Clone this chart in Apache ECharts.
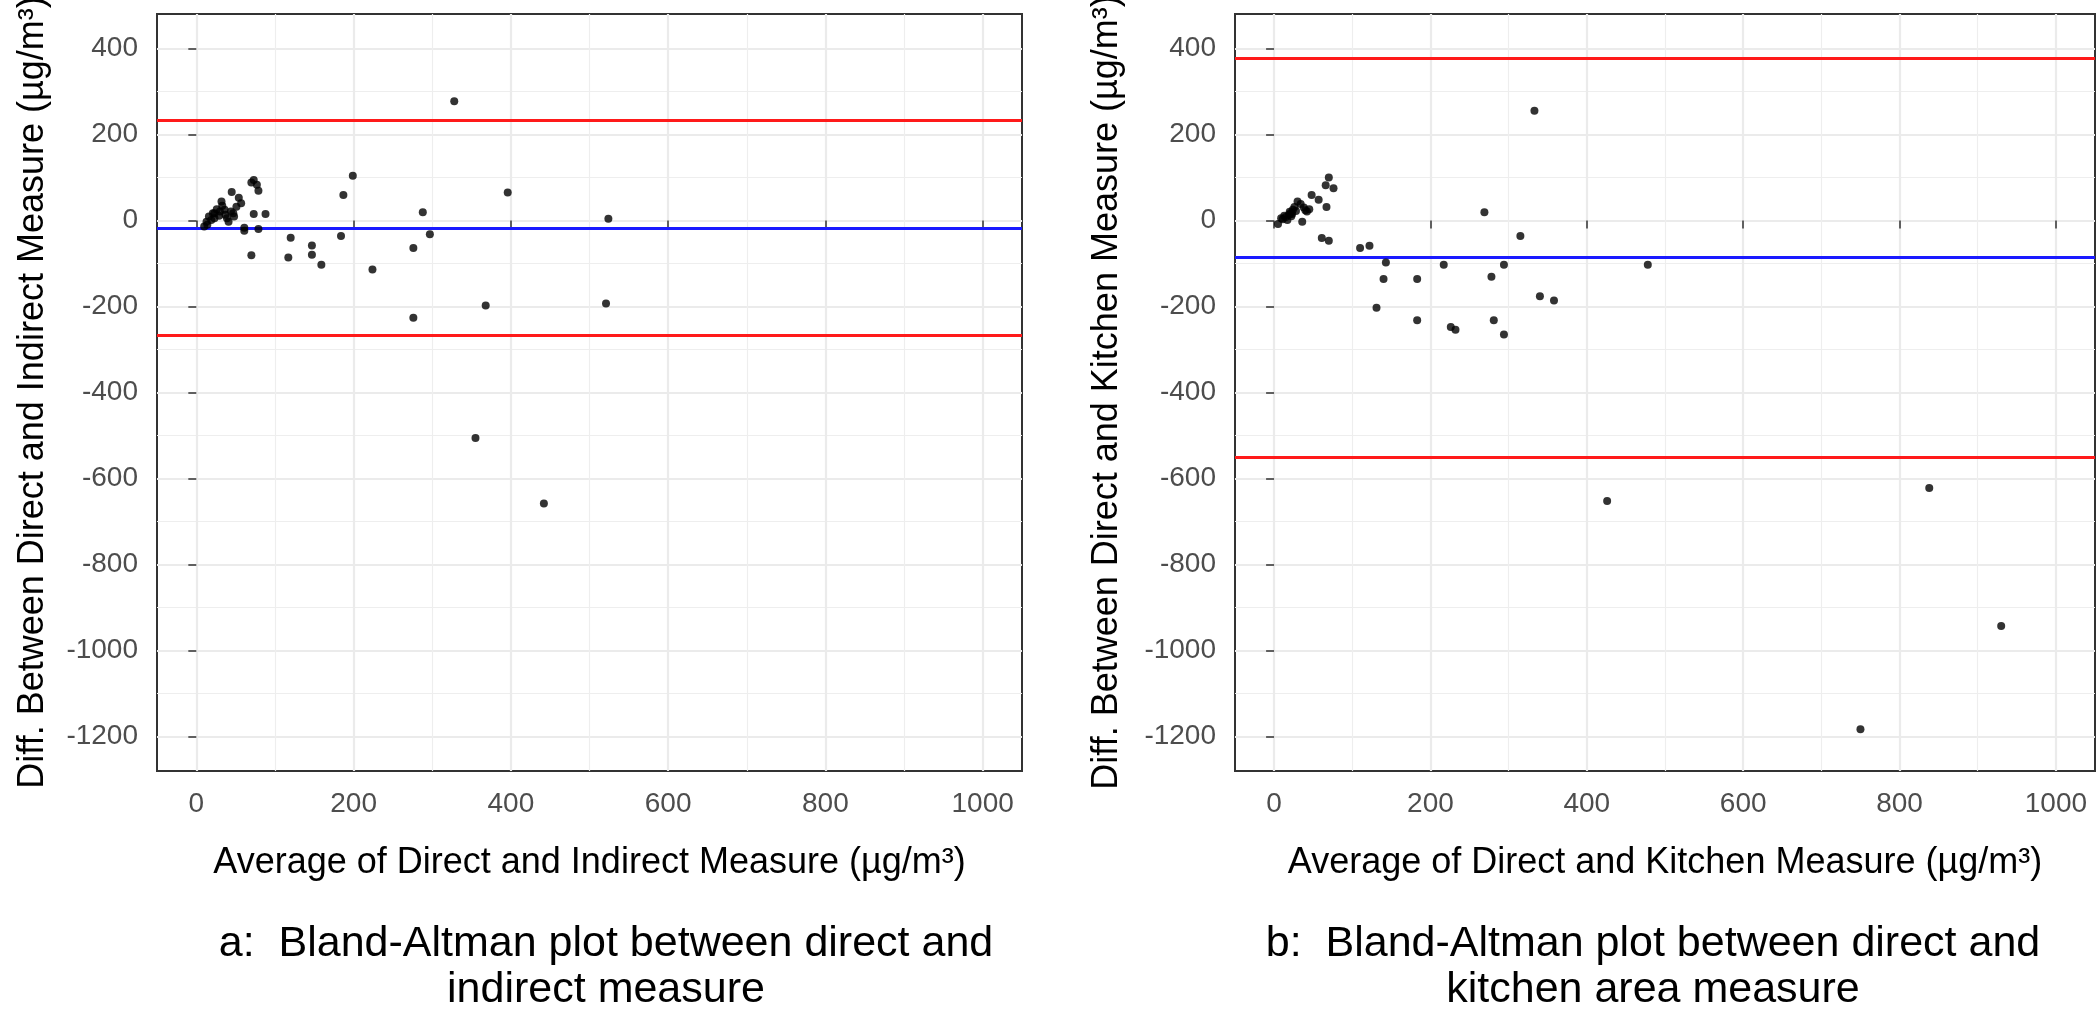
<!DOCTYPE html>
<html>
<head>
<meta charset="utf-8">
<script src="https://cdn.jsdelivr.net/npm/echarts@6/dist/echarts.min.js"></script>
<style>
html,body{margin:0;padding:0;background:#fff;}
#c{width:2100px;height:1015px;}
</style>
</head>
<body>
<div id="c"></div>
<script>
// ---- data ----
const leftAvg  = [328,199,187,396,288,524,297,184,120,147,276,70,117,147,159,224,368,521,276,355,442,
                  10,13,16,21,26,29,32,36,41,45,47,51,54,57,61,61,70,73,77,79,73,79,88,19,23,30,37,44,39,48,14,23,33];
const leftDiff = [277,104,59,65,19,4,-32,-36,-40,-58,-64,-81,-86,-80,-103,-114,-198,-193,-226,-506,-658,
                  -14,-3,9,17,26,11,44,25,-3,66,17,32,53,40,-17,-24,88,94,83,69,15,-20,15,1,5,21,13,21,5,9,-10,17,34];
const leftLimits = [233, -17, -267];   // upper LoA, mean, lower LoA

const rightAvg  = [5,9,13,17,19,21,24,26,30,34,36,42,45,48,57,61,67,70,66,70,76,11,15,20,23,28,22,38,40,
                   110,122,143,140,131,183,183,217,226,232,269,278,281,294,294,315,333,340,358,478,426,750,838,930];
const rightDiff = [-8,5,11,1,13,17,25,31,44,38,-3,21,26,59,48,-41,31,-47,82,100,75,3,8,20,15,22,10,30,24,
                   -64,-59,-98,-136,-203,-136,-232,-103,-248,-254,19,-131,-232,-103,-265,-36,255,-176,-186,-103,-652,-1183,-622,-943];
const rightLimits = [378, -86, -550];

const xTicks = [0,200,400,600,800,1000];
const xMinor = [100,300,500,700,900];
const yTicks = [-1200,-1000,-800,-600,-400,-200,0,200,400];
const yMinor = [-1100,-900,-700,-500,-300,-100,100,300];

const xTitles = ['Average of Direct and Indirect Measure (\u00b5g/m\u00b3)', 'Average of Direct and Kitchen Measure (\u00b5g/m\u00b3)'];
const yTitles = ['Diff. Between Direct and Indirect Measure (\u00b5g/m\u00b3)', 'Diff. Between Direct and Kitchen Measure (\u00b5g/m\u00b3)'];
const captionsA = ['a:  Bland-Altman plot between direct and', 'indirect measure'];
const captionsB = ['b:  Bland-Altman plot between direct and', 'kitchen area measure'];

// ---- chart ----
const FONT = "'Liberation Sans', Arial, sans-serif";
const X_MIN = -50, X_MAX = 1050, Y_MIN = -1280, Y_MAX = 480;

function pair(a, b){ return a.map((v,i)=>[v,b[i]]); }
const plain = v => String(v);

const grids = [
  {left:157, top:14, width:865, height:757},
  {left:1235, top:14, width:860, height:757}
];

const xAxes = [], yAxes = [];
[0,1].forEach(g=>{
  xAxes.push({
    gridIndex:g, type:'value', min:X_MIN, max:X_MAX,
    axisLine:{show:false},
    axisTick:{show:true, length:8, customValues:xTicks, lineStyle:{color:'#333', width:1.5}},
    axisLabel:{customValues:xTicks, formatter:plain, color:'#4D4D4D', fontSize:28, fontFamily:FONT, margin:19},
    splitLine:{show:true, lineStyle:{color:'#EBEBEB', width:2.2}},
    name:xTitles[g], nameLocation:'middle', nameGap:72,
    nameTextStyle:{color:'#000', fontSize:36, fontFamily:FONT, lineHeight:40}
  });
  xAxes.push({
    gridIndex:g, type:'value', min:X_MIN, max:X_MAX, position:'bottom',
    axisLine:{show:false},
    axisTick:{show:false, customValues:xMinor},
    axisLabel:{show:false, customValues:xMinor},
    splitLine:{show:true, lineStyle:{color:'#EEEEEE', width:1.2}}
  });
  yAxes.push({
    gridIndex:g, type:'value', min:Y_MIN, max:Y_MAX,
    axisLine:{show:false},
    axisTick:{show:true, length:8, customValues:yTicks, lineStyle:{color:'#333', width:1.5}},
    axisLabel:{customValues:yTicks, formatter:plain, color:'#4D4D4D', fontSize:28, fontFamily:FONT, margin:19},
    splitLine:{show:true, lineStyle:{color:'#EBEBEB', width:2.2}},
    name:yTitles[g], nameLocation:'middle', nameGap: g===0 ? 104 : 108,
    nameTextStyle:{color:'#000', fontSize:36, fontFamily:FONT, lineHeight:40}
  });
  yAxes.push({
    gridIndex:g, type:'value', min:Y_MIN, max:Y_MAX, position:'left',
    axisLine:{show:false},
    axisTick:{show:false, customValues:yMinor},
    axisLabel:{show:false, customValues:yMinor},
    splitLine:{show:true, lineStyle:{color:'#EEEEEE', width:1.2}}
  });
});

function limitLines(lim){
  return {
    symbol:'none', silent:true, animation:false,
    label:{show:false},
    data:[
      {yAxis:lim[0], lineStyle:{color:'#FF1A1A', width:3, type:'solid'}},
      {yAxis:lim[1], lineStyle:{color:'#1A1AFF', width:3, type:'solid'}},
      {yAxis:lim[2], lineStyle:{color:'#FF1A1A', width:3, type:'solid'}}
    ]
  };
}

const capFont = '43px ' + FONT;
const option = {
  animation:false,
  backgroundColor:'#fff',
  grid: grids.map(g=>Object.assign({show:true, borderColor:'#333', borderWidth:2, backgroundColor:'#fff',
                                    containLabel:false, outerBoundsMode:'none'}, g)),
  xAxis: xAxes,
  yAxis: yAxes,
  series:[
    {type:'scatter', xAxisIndex:0, yAxisIndex:0, data:pair(leftAvg,leftDiff),
     symbol:'circle', symbolSize:8, itemStyle:{color:'#000'}, z:5, markLine:limitLines(leftLimits)},
    {type:'scatter', xAxisIndex:2, yAxisIndex:2, data:pair(rightAvg,rightDiff),
     symbol:'circle', symbolSize:8, itemStyle:{color:'#000'}, z:5, markLine:limitLines(rightLimits)}
  ],
  graphic:[
    {type:'text', x:606, y:944, style:{text:captionsA[0], fill:'#000', font:capFont, textAlign:'center', textVerticalAlign:'middle'}},
    {type:'text', x:606, y:990, style:{text:captionsA[1], fill:'#000', font:capFont, textAlign:'center', textVerticalAlign:'middle'}},
    {type:'text', x:1653, y:944, style:{text:captionsB[0], fill:'#000', font:capFont, textAlign:'center', textVerticalAlign:'middle'}},
    {type:'text', x:1653, y:990, style:{text:captionsB[1], fill:'#000', font:capFont, textAlign:'center', textVerticalAlign:'middle'}}
  ]
};

const chart = echarts.init(document.getElementById('c'), null, {renderer:'canvas'});
chart.setOption(option);
</script>
</body>
</html>
